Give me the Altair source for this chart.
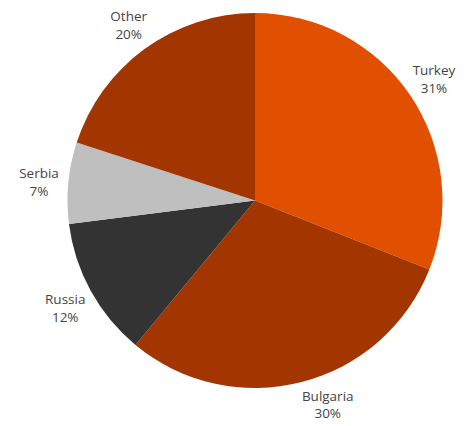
import altair as alt
import pandas as pd

countries = ["Turkey", "Bulgaria", "Russia", "Serbia", "Other"]
shares = [31, 30, 12, 7, 20]
colors = ["#e05000", "#a33500", "#333333", "#bfbfbf", "#a33500"]

df = pd.DataFrame({
    "country": countries,
    "value": shares,
    "idx": list(range(len(countries))),
    "label": [f"{c}\n{v}%" for c, v in zip(countries, shares)],
})

base = alt.Chart(df).encode(
    theta=alt.Theta("value:Q", stack=True),
    order=alt.Order("idx:Q"),
    x=alt.value(247),
    y=alt.value(192.5),
)

arcs = base.mark_arc(outerRadius=187.5, stroke=None).encode(
    color=alt.Color("country:N", scale=alt.Scale(domain=countries, range=colors), legend=None)
)

text_style = dict(radius=220, font="Open Sans", fontSize=13.5, color="#444444",
                  lineBreak="\n", align="center", baseline="middle")

# small nudges so that edge labels stay inside the canvas
nudges = {
    "Turkey": dict(dx=-3, dy=-6, lineHeight=18),
    "Bulgaria": dict(dx=18, dy=-17, lineHeight=17),
}
default_opts = dict(dx=3, dy=-6, lineHeight=18)


def label_layer(names, opts):
    names_js = "[" + ",".join(f"'{n}'" for n in names) + "]"
    return base.mark_text(**opts, **text_style).encode(
        text="label:N",
        opacity=alt.condition(f"indexof({names_js}, datum.country) >= 0",
                              alt.value(1), alt.value(0)),
    )


layers = [arcs, label_layer([c for c in countries if c not in nudges], default_opts)]
for name, opts in nudges.items():
    layers.append(label_layer([name], opts))

chart = alt.layer(*layers).properties(
    width=448, height=410, padding=0, autosize=alt.AutoSizeParams(type="none")
).configure_view(stroke=None)

chart.save("out.html", embed_options={"renderer": "svg", "actions": False})
